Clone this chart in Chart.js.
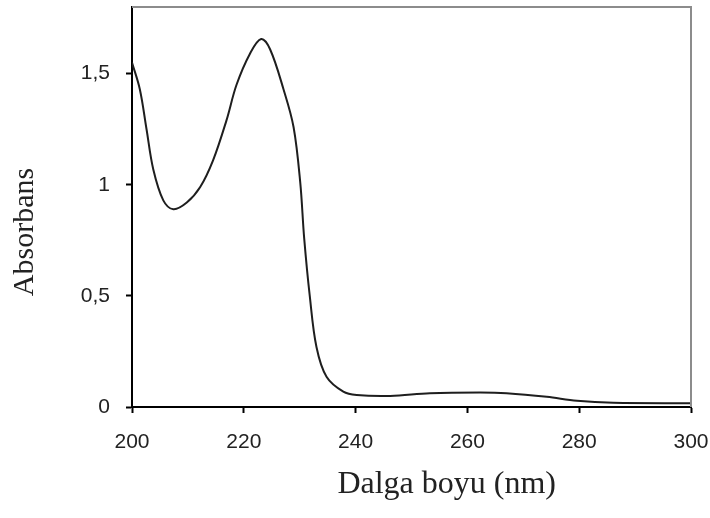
<!DOCTYPE html>
<html>
<head>
<meta charset="utf-8">
<script src="https://cdn.jsdelivr.net/npm/chart.js@4/dist/chart.umd.min.js"></script>
<style>
  html, body { margin: 0; padding: 0; background: #fff; }
  #wrap { width: 710px; height: 518px; }
</style>
</head>
<body>
<div id="wrap"><canvas id="grafico"></canvas></div>
<script>
// dalga boyu (nm)
const dalga = [200, 201.4, 202.6, 203.8, 205.6, 207.4, 209.8, 212.2, 214.5, 216.9, 218.7, 221.1, 223.1, 224.7, 227.1, 228.9, 230.1, 230.8, 231.8, 233.0, 234.8, 237.8, 240.2, 246.2, 253.3, 262.3, 267, 274.2, 279.6, 286.1, 300];
// absorbans
const absorbans = [1.55, 1.43, 1.25, 1.07, 0.93, 0.89, 0.92, 0.99, 1.11, 1.29, 1.45, 1.59, 1.656, 1.61, 1.43, 1.26, 1.01, 0.76, 0.50, 0.27, 0.136, 0.069, 0.054, 0.05, 0.062, 0.065, 0.062, 0.046, 0.028, 0.019, 0.017];

const xTicks = [200, 220, 240, 260, 280, 300];
const yTicks = [0, 0.5, 1, 1.5];
const xTitulo = "Dalga boyu (nm)";
const yTitulo = "Absorbans";

const puntos = dalga.map((x, i) => ({ x: x, y: absorbans[i] }));

// grey top/right frame + axis titles (placed off-centre like the original)
const marco = {
  id: "marco",
  afterDraw(chart) {
    const a = chart.chartArea;
    const ctx = chart.ctx;
    ctx.save();
    ctx.strokeStyle = "#8c8c8c";
    ctx.lineWidth = 2;
    ctx.beginPath();
    ctx.moveTo(a.left, a.top);
    ctx.lineTo(a.right, a.top);
    ctx.lineTo(a.right, a.bottom);
    ctx.stroke();

    ctx.fillStyle = "#222";
    ctx.textAlign = "center";
    ctx.textBaseline = "alphabetic";
    ctx.font = "32px 'Liberation Serif'";
    ctx.fillText(xTitulo, a.left + (a.right - a.left) * 0.563, 493);

    ctx.translate(33, a.top + (a.bottom - a.top) * 0.5625);
    ctx.rotate(-Math.PI / 2);
    ctx.font = "30px 'Liberation Serif'";
    ctx.fillText(yTitulo, 0, 0);
    ctx.restore();
  },
};

new Chart(document.getElementById("grafico"), {
  type: "scatter",
  data: {
    datasets: [
      {
        data: puntos,
        showLine: true,
        borderColor: "#1e1e1e",
        borderWidth: 2,
        pointRadius: 0,
        tension: 0.35,
      },
    ],
  },
  options: {
    responsive: true,
    maintainAspectRatio: false,
    animation: false,
    layout: { padding: { top: 7, right: 19, left: 0, bottom: 0 } },
    plugins: {
      legend: { display: false },
      tooltip: { enabled: false },
    },
    scales: {
      x: {
        type: "linear",
        min: 200,
        max: 300,
        afterBuildTicks: (s) => { s.ticks = xTicks.map((v) => ({ value: v })); },
        afterFit: (s) => { s.height = 111; s.paddingLeft = 0; s.paddingRight = 0; },
        grid: { drawOnChartArea: false, tickLength: 6, tickColor: "#000", tickWidth: 2 },
        border: { color: "#000", width: 2 },
        ticks: { color: "#222", font: { family: "Liberation Sans", size: 21 }, padding: 17, maxRotation: 0 },
      },
      y: {
        min: 0,
        max: 1.8,
        afterBuildTicks: (s) => { s.ticks = yTicks.map((v) => ({ value: v })); },
        afterFit: (s) => { s.width = 132; s.paddingTop = 0; s.paddingBottom = 0; },
        grid: { drawOnChartArea: false, tickLength: 6, tickColor: "#000", tickWidth: 2 },
        border: { color: "#000", width: 2 },
        ticks: {
          color: "#222",
          font: { family: "Liberation Sans", size: 21 },
          padding: 16,
          callback: (v) => String(v).replace(".", ","),
        },
      },
    },
  },
  plugins: [marco],
});
</script>
</body>
</html>
